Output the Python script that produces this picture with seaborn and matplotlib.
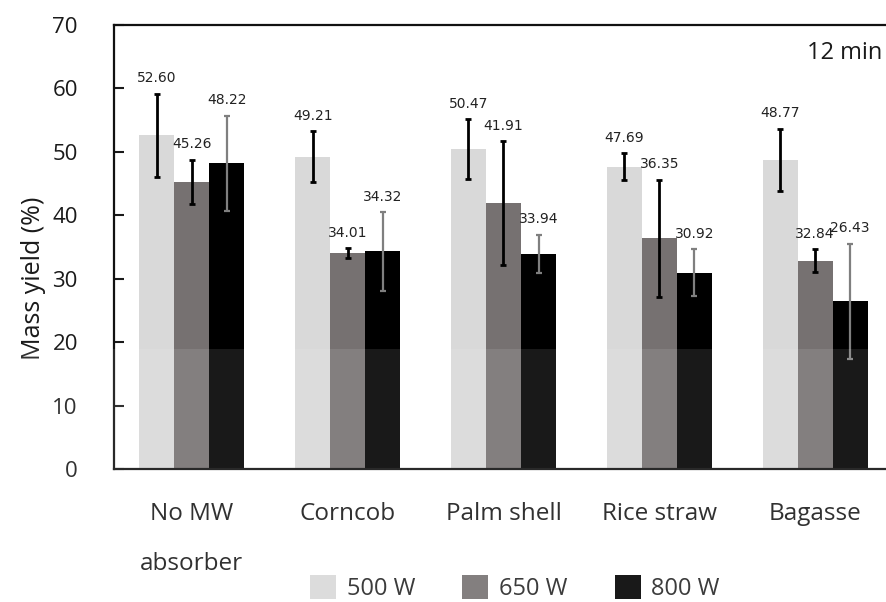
import matplotlib
matplotlib.use("Agg")
import matplotlib.pyplot as plt
import seaborn as sns
import pandas as pd
from matplotlib.patches import Rectangle, Patch

categories = ["No MW\nabsorber", "Corncob", "Palm shell", "Rice straw", "Bagasse"]
powers = ["500 W", "650 W", "800 W"]
yield_500 = [52.60, 49.21, 50.47, 47.69, 48.77]
yield_650 = [45.26, 34.01, 41.91, 36.35, 32.84]
yield_800 = [48.22, 34.32, 33.94, 30.92, 26.43]
err_500 = [6.6, 4.0, 4.7, 2.1, 4.9]
err_650 = [3.5, 0.8, 9.75, 9.25, 1.8]
err_800 = [7.5, 6.2, 3.0, 3.7, 9.1]

colors = {"500 W": "#d9d9d9", "650 W": "#767171", "800 W": "#000000"}
err_colors = {"500 W": "#000000", "650 W": "#000000", "800 W": "#7f7f7f"}

rows = []
for p, vals in zip(powers, [yield_500, yield_650, yield_800]):
    for c, v in zip(categories, vals):
        rows.append({"cat": c, "power": p, "value": v})
df = pd.DataFrame(rows)
errs = {"500 W": err_500, "650 W": err_650, "800 W": err_800}
vals_map = {"500 W": yield_500, "650 W": yield_650, "800 W": yield_800}

sns.set_theme(style="white")
plt.rcParams["font.family"] = ["DejaVu Sans"]

fig = plt.figure(figsize=(8.87, 6.02), dpi=100)
ax = fig.add_axes([114 / 887, 1 - 469 / 602, 779 / 887, 444 / 602])

sns.barplot(data=df, x="cat", y="value", hue="power", palette=colors,
            width=0.675, errorbar=None, ax=ax, legend=False, saturation=1,
            linewidth=0)

for p, cont in zip(powers, ax.containers):
    xs = [b.get_x() + b.get_width() / 2 for b in cont]
    ys = vals_map[p]
    lw = 2.0 if p != "800 W" else 1.6
    ax.errorbar(xs, ys, yerr=errs[p], fmt="none", ecolor=err_colors[p],
                elinewidth=lw, capsize=2.5, capthick=lw, zorder=5)
    for x, y, e in zip(xs, ys, errs[p]):
        ax.annotate(f"{y:.2f}", (x, y + e), xytext=(0, 11), textcoords="offset points",
                    ha="center", va="center", fontsize=10, color="#222222",
                    family="DejaVu Sans")

ax.set_ylim(0, 70)
ax.set_xlim(-0.5, 4.5)
ax.set_yticks(range(0, 71, 10))
ax.tick_params(axis="y", direction="in", length=7, width=1.5, pad=26,
               labelsize=16, colors="#1a1a1a", left=True)
ax.tick_params(axis="x", length=0, pad=24, labelsize=17.5, colors="#1a1a1a")
for lab in ax.get_yticklabels():
    lab.set_family("Open Sans")
for lab in ax.get_xticklabels():
    lab.set_family("Open Sans")
    lab.set_linespacing(2.4)
ax.set_xlabel("")
ax.set_ylabel("Mass yield (%)", fontsize=18, family="Open Sans", color="#1a1a1a")
ax.yaxis.set_label_coords(-0.087, 0.43)

for s in ["left", "bottom", "top"]:
    ax.spines[s].set_visible(True)
    ax.spines[s].set_color("#111111")
    ax.spines[s].set_linewidth(1.6)
ax.spines["right"].set_visible(False)

ax.text(0.986, 0.937, "12 min", transform=ax.transAxes, ha="right", va="center",
        fontsize=17, family="Open Sans", color="#1a1a1a")

handles = [Patch(facecolor=colors[p], edgecolor="none", label=p) for p in powers]
fig.legend(handles=handles, loc="center", bbox_to_anchor=(515 / 887, 1 - 588 / 602),
           ncol=3, frameon=False, handlelength=1.1, handleheight=1.15,
           handletextpad=0.45, columnspacing=2.0, prop={"family": "Open Sans", "size": 17})

fig.patches.append(Rectangle((0, 0), 1, (602 - 349) / 602, transform=fig.transFigure,
                             facecolor="white", alpha=0.1, edgecolor="none", zorder=100))

fig.savefig("out.png", dpi=100)
